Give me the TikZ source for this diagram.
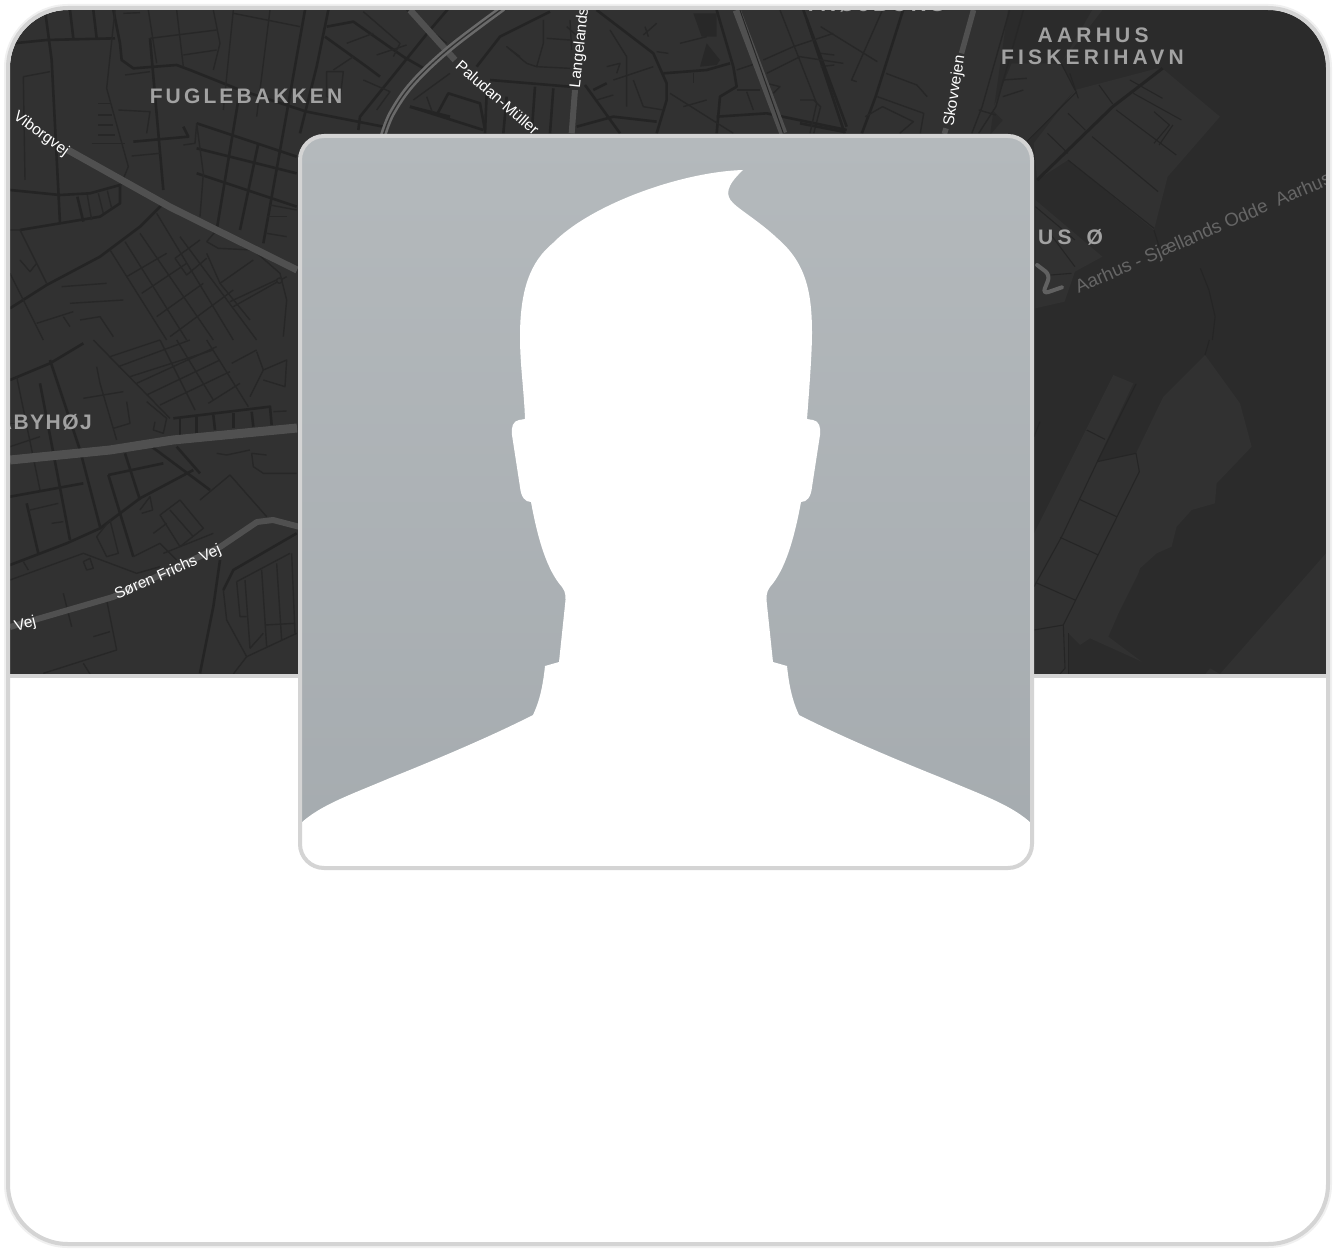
\documentclass[tikz,border=0pt]{standalone}
\usepackage{fontspec}
\setmainfont{Liberation Sans}
\newfontfamily\placefont[LetterSpace=15]{Liberation Sans Bold}
\newfontfamily\placewide[LetterSpace=20]{Liberation Sans Bold}
\newfontfamily\placetight[LetterSpace=7]{Liberation Sans Bold}
\definecolor{land}{HTML}{313131}
\definecolor{water}{HTML}{2B2B2B}
\definecolor{street}{HTML}{242424}
\definecolor{thinst}{HTML}{272727}
\definecolor{major}{HTML}{505050}
\definecolor{rim}{HTML}{D4D4D4}
\definecolor{hbline}{HTML}{252525}
\definecolor{placegrey}{HTML}{A2A2A2}
\definecolor{avtop}{HTML}{B4B9BC}
\definecolor{avbot}{HTML}{A5ABAF}
\tikzset{
  st/.style={draw=street,line width=2.6pt,line join=round},
  sm/.style={draw=thinst,line width=1.4pt,line join=round},
  hb/.style={draw=hbline,line width=1.1pt,line join=round},
  road/.style={draw=major,line width=#1,line join=round},
  place/.style={text=placegrey,font=\placefont\fontsize{21}{24}\selectfont,inner sep=0pt},
  placew/.style={text=placegrey,font=\placewide\fontsize{21}{24}\selectfont,inner sep=0pt},
  roadname/.style={text=white,font=\fontsize{15.5}{17}\selectfont,inner sep=0pt},
  zA/.style={x=0.33333pt,y=-0.33333pt},
  zC/.style={x=0.34364pt,y=-0.33333pt},
}
\begin{document}
\begin{tikzpicture}[x=1pt,y=-1pt]
\useasboundingbox (0,0) rectangle (1336,1252);
\fill[white] (0,0) rectangle (1336,1252);
\draw[line width=8pt,draw=black!6,rounded corners=60pt] (8,8) rectangle (1328,1244);
\fill[white,rounded corners=60pt] (8,8) rectangle (1328,1244);
\begin{scope}
\clip[rounded corners=58pt] (10,10) rectangle (1326,1242);
% base
\fill[land] (10,10) rectangle (1326,674);
% water
\fill[water] (1008,10) -- (1326,10) -- (1326,674) -- (1020,674) -- (1020,100) -- (990,135) -- cycle;
\begin{scope}[zC,shift={(800pt,0pt)}]
  % upper left land tongue
  \fill[land] (880,30) -- (760,190) -- (800,270) -- (660,430) -- (560,330) -- (620,180) -- (640,30) -- cycle;
  \fill[water] (640,30) -- (590,190) -- (760,190) -- (850,30) -- cycle;
  % harbour
  \fill[land] (680,430) -- (800,270) -- (1040,205) -- (1060,210) -- (1222,350) -- (1070,530) -- (1030,690) -- (780,480) -- (690,540) -- cycle;
  \fill[land] (685,600) -- (880,770) -- (800,815) -- (770,905) -- (685,925) -- cycle;
  \draw[hb] (1165,805) -- (1190,870) -- (1208,950) -- (1200,1020);
  \draw[street,line width=3pt] (690,540) -- (910,320) -- (1055,205);
  \draw[hb] (780,480) -- (1030,685);
  \draw[hb] (850,410) -- (1042,575);
  \draw[hb] (720,400) -- (780,460);
  \draw[hb] (780,340) -- (830,390);
  \draw[hb] (870,255) -- (910,312);
  \draw[hb] (660,425) -- (805,275);
  \draw[hb] (920,330) -- (1095,465);
  \draw[hb] (970,280) -- (1110,360);
  \draw[hb] (1030,430) -- (1075,375) -- (1030,335);
  \draw[hb] (1045,435) -- (1085,375);
  \draw[hb] (960,240) -- (1055,295);
  \draw[hb] (760,190) -- (800,270);
  \draw[hb] (785,220) -- (810,295);
  \draw[hb] (1030,690) -- (1045,740);
  \draw[hb] (685,620) -- (800,720);
  \draw[hb] (720,690) -- (800,800);
  \draw[hb] (730,825) -- (790,820);
  % streets upper right
  \draw[st] (20,60) -- (130,400);
  \draw[st] (300,30) -- (220,290) -- (180,400);
  \draw[sm] (240,30) -- (150,240) -- (165,245);
  \draw[sm] (60,80) -- (225,185);
  \draw[sm] (225,290) -- (360,340) -- (350,400);
  \draw[sm] (250,220) -- (340,255) -- (370,290);
  \draw[sm] (190,350) -- (240,320) -- (330,365) -- (290,400);
  \draw[sm] (60,160) -- (100,165);
  \draw[sm] (60,200) -- (100,195);
  \draw[sm] (0,300) -- (40,300) -- (60,320) -- (40,400);
  \draw[st] (0,370) -- (125,395);
  \draw[sm] (610,30) -- (530,320) -- (500,400);
  \draw[sm] (650,30) -- (570,320) -- (520,400);
  \draw[sm] (590,240) -- (660,235);
  \draw[sm] (590,290) -- (650,270);
  \draw[sm] (520,330) -- (570,345);
  % Skovvejen
  \draw[road=5.5pt] (505,30) -- (470,160);
  \draw[road=5.5pt] (425,385) -- (420,402);
  \node[roadname,rotate=81] (skov) at (451,273) {Skovvejen};
  \node[placew] (aar) at (853,105) {AARHUS};
  \node[placew,anchor=center] (fisk) at (851,173) {FISKERIHAVN};
  \node[placew,anchor=east] (ooe) at (882,713) {AARHUS\hspace{5pt} Ø};
  % Ferry
  \draw[draw=major!90!white,line width=4pt,rounded corners=6pt,line cap=round] (690,795) -- (728,825) -- (706,882) -- (762,862);
  \node[text=white!40!black,font=\fontsize{18.6}{20}\selectfont,inner sep=0pt,rotate=23.5,anchor=west] (ferry) at (805,868) {Aarhus - Sjællands Odde\hspace{5pt} Aarhus};
\end{scope}
\begin{scope}[zA,shift={(1020pt,-340pt)}]
  \fill[land] (42,1010) -- (42,580) -- (280,105) -- (340,130) -- (230,365) -- (348,340) -- (430,170) -- (555,45) -- (660,190) -- (695,320) -- (590,430) -- (585,490) -- (515,510) -- (470,560) -- (455,620) -- (410,640) -- (360,685) -- (355,700) -- (300,810) -- (265,890) -- (365,965) -- (210,895) -- (180,915) -- (145,880) -- (145,1010) -- cycle;
  \fill[land] (918,640) -- (600,1002) -- (570,985) -- (550,1010) -- (918,1010) -- cycle;
  \draw[hb] (555,45) -- (568,0);
  \draw[hb] (200,270) -- (255,298);
  \draw[hb] (348,132) -- (232,365) -- (125,590) -- (42,740);
  \draw[hb] (232,365) -- (348,340) -- (358,395) -- (130,855) -- (42,870);
  \draw[hb] (178,478) -- (290,530);
  \draw[hb] (120,592) -- (235,645);
  \draw[hb] (48,728) -- (165,780);
  \draw[hb] (130,855) -- (135,985) -- (120,1002);
  \draw[hb] (145,880) -- (145,1002);
  \draw[hb] (42,290) -- (60,245);
\end{scope}
% left upper streets
\begin{scope}[zA]
  \draw[st] (40,130) -- (140,120) -- (345,115);
  \draw[st] (135,30) -- (155,180) -- (180,670);
  \draw[st] (210,30) -- (220,115);
  \draw[st] (280,30) -- (290,115);
  \draw[st] (340,30) -- (360,130) -- (365,180) -- (400,205) -- (530,195) -- (570,210) -- (720,270) -- (920,335) -- (1150,380);
  \draw[st] (915,30) -- (860,340) -- (790,730);
  \draw[st] (985,30) -- (950,200) -- (900,400);
  \draw[st] (30,570) -- (180,585) -- (270,580) -- (360,555);
  \draw[st] (360,555) -- (360,610) -- (300,650) -- (180,670) -- (60,690);
  \draw[st] (232,590) -- (250,665);
  \draw[sm] (262,585) -- (275,660);
  \draw[sm] (295,580) -- (310,640);
  \draw[sm] (322,572) -- (335,625);
  \draw[st] (30,925) -- (140,855) -- (300,770) -- (420,680) -- (490,610);
  \draw[st] (450,115) -- (490,570);
  \draw[st] (400,425) -- (565,410) -- (550,380);
  \draw[st] (590,370) -- (890,470);
  \draw[st] (590,445) -- (890,520);
  \draw[st] (590,520) -- (890,620);
  \draw[st] (720,270) -- (650,690);
  \draw[st] (775,430) -- (720,690);
  \draw[sm] (345,30) -- (320,265) -- (385,500) -- (360,560);
  \draw[sm] (445,30) -- (470,190);
  \draw[sm] (530,30) -- (550,200);
  \draw[sm] (640,30) -- (660,130) -- (640,210);
  \draw[sm] (700,30) -- (670,330);
  \draw[sm] (810,30) -- (770,350);
  \draw[sm] (450,115) -- (650,90);
  \draw[sm] (550,165) -- (650,150);
  \draw[sm] (700,40) -- (900,80);
  \draw[sm] (370,40) -- (420,38);
  \draw[sm] (70,230) -- (150,215);
  \draw[sm] (70,230) -- (75,540);
  \draw[sm] (355,330) -- (450,335) -- (440,400);
  \draw[sm] (375,225) -- (450,215);
  \draw[sm] (295,310) -- (330,310);
  \draw[sm] (295,345) -- (335,345);
  \draw[sm] (295,375) -- (340,375);
  \draw[sm] (295,405) -- (345,405);
  \draw[sm] (275,430) -- (375,430);
  \draw[sm] (395,468) -- (480,460);
  \draw[sm] (550,435) -- (585,430) -- (590,370);
  \draw[sm] (590,370) -- (610,520) -- (600,650);
  \draw[sm] (810,615) -- (890,630);
  \draw[sm] (800,650) -- (860,650);
  \draw[sm] (800,700) -- (860,710);
  \draw[sm] (620,725) -- (655,745) -- (760,750) -- (840,820) -- (860,900) -- (850,1010);
  \draw[sm] (620,725) -- (650,690);
  \draw[st] (980,80) -- (1060,65) -- (1210,170) -- (1280,210);
  \draw[st] (975,110) -- (1100,200) -- (1140,230);
  \draw[st] (1290,90) -- (1080,350) -- (1075,390);
  \draw[st] (1350,20) -- (1290,90);
  \draw[st] (1230,320) -- (1350,350);
  \draw[sm] (1220,30) -- (1340,130);
  \draw[sm] (1090,35) -- (1200,130) -- (1180,170);
  \draw[sm] (1040,130) -- (1120,100);
  \draw[sm] (1130,165) -- (1220,135);
  \draw[sm] (1000,210) -- (1060,170);
  \draw[sm] (980,215) -- (1030,215) -- (1020,300) -- (980,290) -- cycle;
  \draw[sm] (1090,240) -- (1170,275) -- (1130,330);
  \draw[sm] (1240,300) -- (1350,220);
  \draw[sm] (1280,290) -- (1300,345);
  % lower diagonal grid
  \draw[sm] (330,750) -- (500,1020);
  \draw[sm] (375,725) -- (560,1020);
  \draw[sm] (420,700) -- (640,1020);
  \draw[sm] (470,640) -- (700,1020);
  \draw[sm] (540,710) -- (770,1020);
  \draw[sm] (380,830) -- (500,760);
  \draw[sm] (425,880) -- (560,790);
  \draw[sm] (470,950) -- (610,850);
  \draw[sm] (510,1010) -- (700,870);
  \draw[sm] (525,775) -- (600,720) ;
  \draw[sm] (525,775) -- (560,825) -- (620,775);
  \draw[sm] (620,760) -- (660,850) -- (750,960);
  \draw[sm] (660,850) -- (760,780);
  \draw[sm] (700,920) -- (860,830);
  \draw[sm] (690,905) -- (840,835);
  \draw[sm] (30,820) -- (130,1020);
  \draw[sm] (60,780) -- (90,815) -- (110,790);
  \draw[sm] (185,860) -- (320,850);
  \draw[sm] (210,910) -- (370,900);
  \draw[sm] (240,960) -- (300,950) -- (340,1010);
  \draw[sm] (190,950) -- (210,980);
  \draw[sm] (110,970) -- (220,935);
  \draw[sm] (30,690) -- (60,690) -- (140,850);
  \draw[sm,fill=land] (838,842) circle [radius=8];
\end{scope}
\begin{scope}[zA,shift={(0pt,-340pt)}]
  \draw[st] (30,120) -- (150,70) -- (250,10);
  \draw[st] (150,60) -- (240,330) -- (300,560);
  \draw[sm] (50,110) -- (120,450);
  \draw[st] (120,130) -- (210,600);
  \draw[st] (30,470) -- (250,430);
  \draw[st] (80,490) -- (115,640);
  \draw[sm] (90,510) -- (175,490);
  \draw[sm] (155,550) -- (190,545);
  \draw[st] (30,675) -- (200,610) -- (300,565) -- (420,475) -- (580,390);
  \draw[st] (325,405) -- (490,370);
  \draw[st] (325,405) -- (400,650);
  \draw[st] (375,340) -- (420,480);
  \draw[st] (520,235) -- (810,200) -- (815,255);
  \draw[st] (540,230) -- (540,290);
  \draw[st] (590,230) -- (590,280);
  \draw[st] (640,225) -- (645,270);
  \draw[st] (700,220) -- (700,265);
  \draw[st] (755,215) -- (760,260);
  \draw[st] (455,320) -- (630,450);
  \draw[st] (530,320) -- (600,400);
  \draw[sm] (600,480) -- (690,405) -- (800,530);
  \draw[sm] (650,340) -- (680,345) -- (750,330);
  \draw[sm] (755,340) -- (760,380) -- (790,400) -- (890,400);
  \draw[sm] (755,340) -- (800,345);
  \draw[sm] (480,525) -- (540,480) -- (610,565) -- (540,620) -- cycle;
  \draw[sm] (510,510) -- (580,590);
  \draw[sm] (420,510) -- (450,470) -- (458,510) -- (425,520);
  \draw[sm] (460,580) -- (500,550);
  \draw[sm] (400,650) -- (480,610) -- (530,660);
  \draw[sm] (490,640) -- (640,580);
  \draw[sm] (280,0) -- (510,235);
  \draw[sm] (330,50) -- (480,0);
  \draw[sm] (355,80) -- (570,0);
  \draw[sm] (390,110) -- (640,30);
  \draw[sm] (410,130) -- (650,20);
  \draw[sm] (440,165) -- (660,60);
  \draw[sm] (480,195) -- (690,95);
  \draw[sm] (480,0) -- (585,210);
  \draw[sm] (530,0) -- (640,180);
  \draw[sm] (620,0) -- (745,200);
  \draw[sm] (625,190) -- (720,130);
  \draw[sm] (695,70) -- (770,30);
  \draw[sm] (790,90) -- (860,60) -- (855,140) -- (790,120);
  \draw[sm] (770,35) -- (790,90) -- (750,170);
  \draw[sm] (290,80) -- (300,130) -- (350,300);
  \draw[sm] (250,175) -- (370,155);
  \draw[sm] (380,185) -- (390,250) -- (340,265);
  \draw[sm] (440,185) -- (500,235) -- (490,280) -- (460,270) -- (465,245);
  \draw[sm] (820,215) -- (860,213);
  \draw[sm] (30,250) -- (70,250);
  \draw[sm] (30,320) -- (120,290);
  % lower
  \draw[st] (660,660) -- (640,800) -- (600,1000);
  \draw[st] (670,750) -- (700,690) -- (890,580);
  \draw[sm] (670,750) -- (680,840) -- (740,950) -- (890,880);
  \draw[sm] (710,725) -- (870,640);
  \draw[sm] (710,725) -- (720,830) -- (740,830);
  \draw[sm] (735,720) -- (750,925);
  \draw[sm] (785,690) -- (800,920);
  \draw[sm] (830,670) -- (845,900);
  \draw[sm] (875,640) -- (885,880);
  \draw[sm] (795,855) -- (885,850);
  \draw[sm] (750,925) -- (790,880);
  \draw[sm] (740,950) -- (700,1002);
  \draw[sm] (30,720) -- (250,640) -- (410,700) -- (480,680);
  \draw[sm] (190,760) -- (215,860);
  \draw[sm] (280,890) -- (330,875);
  \draw[sm] (320,780) -- (350,930) -- (130,1000);
  \draw[sm] (250,970) -- (270,1002);
  \draw[sm] (70,665) -- (85,690);
  \draw[sm] (250,665) -- (270,655) -- (280,685) -- (260,690) -- cycle;
  \draw[sm] (290,590) -- (330,540) -- (355,640) -- (320,650) -- cycle;
\end{scope}
% top middle streets
\begin{scope}[zA,shift={(400pt,0pt)}]
  \fill[street!70!land] (880,40) -- (950,40) -- (950,110) -- (905,110) -- cycle;
  \fill[street!70!land] (900,200) -- (920,130) -- (960,180) -- (950,195) -- cycle;
  \draw[st] (30,320) -- (250,390);
  \draw[st] (110,345) -- (145,280) -- (240,310) -- (255,390);
  \draw[st] (260,280) -- (255,400);
  \draw[st] (320,290) -- (310,400);
  \draw[st] (405,260) -- (395,400);
  \draw[st] (460,265) -- (450,400);
  \draw[st] (270,240) -- (510,260);
  \draw[st] (230,200) -- (300,110) -- (450,35);
  \draw[sm] (430,60) -- (430,130) -- (410,200) -- (380,190) -- (320,140) -- (360,170);
  \draw[sm] (440,115) -- (510,120);
  \draw[sm] (510,60) -- (515,150);
  \draw[sm] (410,200) -- (510,205);
  \draw[st] (530,380) -- (640,350) -- (770,365);
  \draw[st] (555,255) -- (660,400);
  \draw[st] (590,30) -- (760,160) -- (800,250) -- (800,300) -- (770,400);
  \draw[st] (790,220) -- (920,210) -- (990,190);
  \draw[st] (950,30) -- (1000,200) -- (1010,260) -- (960,290) -- (950,400);
  \draw[st] (950,350) -- (1100,340) -- (1340,390);
  \draw[sm] (630,90) -- (680,170) -- (680,320);
  \draw[sm] (620,200) -- (660,190) -- (650,220);
  \draw[sm] (640,240) -- (760,200);
  \draw[sm] (700,240) -- (730,320) -- (790,330);
  \draw[st] (580,270) -- (620,250);
  \draw[sm] (590,300) -- (640,285);
  \draw[sm] (730,105) -- (770,70);
  \draw[sm] (735,80) -- (745,110);
  \draw[sm] (770,155) -- (805,160);
  \draw[sm] (810,280) -- (1000,400);
  \draw[sm] (850,320) -- (920,300);
  \draw[sm] (840,130) -- (920,110);
  \draw[sm] (880,220) -- (880,250);
  \draw[sm] (1010,210) -- (1070,190);
  \draw[sm] (1010,270) -- (1080,270);
  \draw[sm] (1040,275) -- (1060,330);
  \draw[sm] (1100,250) -- (1140,260) -- (1120,280);
  \draw[st] (1210,30) -- (1340,380);
  \draw[sm] (1140,30) -- (1250,310) -- (1230,400);
  \draw[sm] (1090,180) -- (1180,140) -- (1300,100);
  \draw[sm] (1100,220) -- (1200,170) -- (1330,190);
  \draw[sm] (500,80) -- (545,120);
  % major
  \draw[road=6.5pt] (30,30) -- (165,180);
  \draw[road=6pt] (515,400) -- (525,270);
  \draw[road=8pt] (1010,30) -- (1150,400);
  \draw[draw=street!80!land,line width=1pt] (1020,30) -- (1150,400);
\end{scope}
% curved double road
\draw[draw=major!85!white,line width=6.5pt] plot[smooth,tension=.6] coordinates {(383,136) (392,113) (413,83) (450,48) (503,8)};
\draw[draw=land,line width=1.3pt] plot[smooth,tension=.6] coordinates {(383,136) (392,113) (413,83) (450,48) (503,8)};
% named major roads
\draw[road=7pt] (68,150) -- (170,207) -- (297,270);
\draw[road=9pt] (10,460) -- (110,450) -- (173,440) -- (297,428);
\draw[road=6pt] (10,627) -- (113,597) -- (220,547) -- (257,522) -- (273,520) -- (300,527);
\node[roadname,rotate=-36,anchor=center] (vib) at (41,134) {Viborgvej};
\node[roadname,rotate=-41,anchor=west] (pal) at (458,63) {Paludan-Müller};
\node[roadname,rotate=84,anchor=center] (lang) at (580,48) {Langelands};
\node[roadname,rotate=24,anchor=center] (sor) at (168,573) {Søren Frichs Vej};
\node[roadname,rotate=14,anchor=east] (vej) at (36,622) {Vej};
\node[place,font=\placetight\fontsize{21}{24}\selectfont,anchor=east] (aby) at (92,421) {ÅBYHØJ};
\node[place] (fug) at (246,96) {FUGLEBAKKEN};
\node[place,anchor=center] (top) at (875,4) {TRØJBORG};
\end{scope}
% frame pieces
\draw[rim,line width=4pt,rounded corners=60pt] (8,8) rectangle (1328,1244);
\draw[rim,line width=4pt] (8,676) -- (1328,676);
% avatar
\begin{scope}
\clip[rounded corners=22pt] (300,136) rectangle (1032,868);
\shade[top color=avtop,bottom color=avbot] (300,136) rectangle (1032,868);
\fill[white]
  (743,170) .. controls (680,172) and (590,205) .. (553,243)
  .. controls (530,262) and (520,290) .. (520,337)
  .. controls (520,365) and (524,390) .. (525,419)
  -- (519,420) .. controls (513,421) and (511,427) .. (512,435)
  -- (520,487) .. controls (521,497) and (525,502) .. (531,502)
  .. controls (538,540) and (547,570) .. (562,587)
  .. controls (566,592) and (566,598) .. (565,605)
  -- (559,662) -- (545,666)
  .. controls (543,685) and (540,700) .. (533,715)
  .. controls (490,737) and (430,762) .. (390,778)
  .. controls (350,795) and (320,805) .. (300,824)
  -- (296,872) -- (1036,872) -- (1032,824)
  .. controls (1012,805) and (982,795) .. (942,778)
  .. controls (902,762) and (842,737) .. (799,715)
  .. controls (792,700) and (789,685) .. (787,666)
  -- (773,662) -- (767,605)
  .. controls (766,598) and (766,592) .. (770,587)
  .. controls (785,570) and (794,540) .. (801,502)
  .. controls (807,502) and (811,497) .. (812,487)
  -- (820,435) .. controls (821,427) and (819,421) .. (813,420)
  -- (807,419)
  .. controls (810,380) and (812,350) .. (812,333)
  .. controls (812,290) and (805,262) .. (777,238)
  .. controls (760,222) and (740,210) .. (733,203)
  .. controls (725,195) and (726,186) .. (743,170)
  -- cycle;
\end{scope}
\draw[rim,line width=4pt,rounded corners=24pt] (300,136) rectangle (1032,868);
\end{tikzpicture}
\end{document}
